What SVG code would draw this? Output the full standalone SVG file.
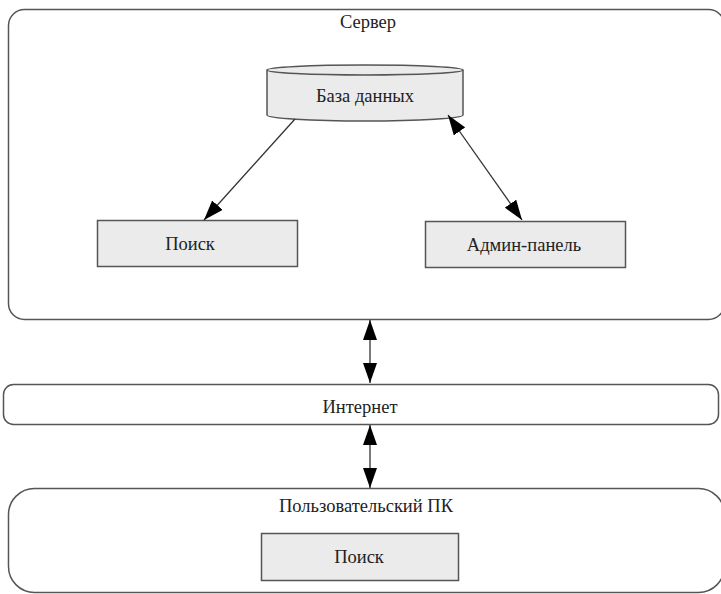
<svg xmlns="http://www.w3.org/2000/svg" width="721" height="594" viewBox="0 0 721 594">
  <defs>
    <marker id="arrow" viewBox="0 0 20 14" refX="20" refY="7" markerWidth="20" markerHeight="14" markerUnits="userSpaceOnUse" orient="auto-start-reverse">
      <path d="M0,0 L20,7 L0,14 Z" fill="#000"/>
    </marker>
    <style>
      .container { fill: #ffffff; stroke: #555555; stroke-width: 1.5; }
      .node { fill: #ebebeb; stroke: #555555; stroke-width: 1.5; }
      .label { font-family: "Liberation Serif", "DejaVu Serif", serif; font-size: 18.5px; fill: #222222; text-anchor: middle; }
      .edge { stroke: #333333; stroke-width: 1.3; fill: none; }
    </style>
  </defs>

  <rect width="721" height="594" fill="#ffffff"/>

  <g id="server">
    <rect class="container" x="8.5" y="9.5" width="716" height="310" rx="16" ry="16"/>
    <text class="label" x="368" y="28">Сервер</text>
  </g>

  <g id="database">
    <path class="node" d="M267,70 L267,115 A98,6 0 0 0 463,115 L463,70"/>
    <ellipse class="node" cx="365" cy="70" rx="98" ry="5"/>
    <text class="label" x="365" y="102">База данных</text>
  </g>

  <g id="search-server">
    <rect class="node" x="97.5" y="220.5" width="200" height="46"/>
    <text class="label" x="190" y="250">Поиск</text>
  </g>

  <g id="admin-panel">
    <rect class="node" x="425.5" y="221.5" width="200" height="46"/>
    <text class="label" x="524" y="251">Админ-панель</text>
  </g>

  <g id="internet">
    <rect class="container" x="3.5" y="384.5" width="715" height="40" rx="10" ry="10"/>
    <text class="label" x="360" y="413">Интернет</text>
  </g>

  <g id="user-pc">
    <rect class="container" x="8.5" y="488.5" width="716" height="104" rx="26" ry="26"/>
    <text class="label" x="366" y="512">Пользовательский ПК</text>
  </g>

  <g id="search-client">
    <rect class="node" x="261.5" y="533.5" width="197" height="47"/>
    <text class="label" x="359" y="563">Поиск</text>
  </g>

  <g id="connectors">
    <line class="edge" x1="295" y1="119" x2="204" y2="220" marker-end="url(#arrow)"/>
    <line class="edge" x1="448" y1="115" x2="522" y2="220" marker-start="url(#arrow)" marker-end="url(#arrow)"/>
    <line class="edge" x1="370" y1="320" x2="370" y2="383" marker-start="url(#arrow)" marker-end="url(#arrow)"/>
    <line class="edge" x1="370" y1="425" x2="370" y2="488" marker-start="url(#arrow)" marker-end="url(#arrow)"/>
  </g>
</svg>
